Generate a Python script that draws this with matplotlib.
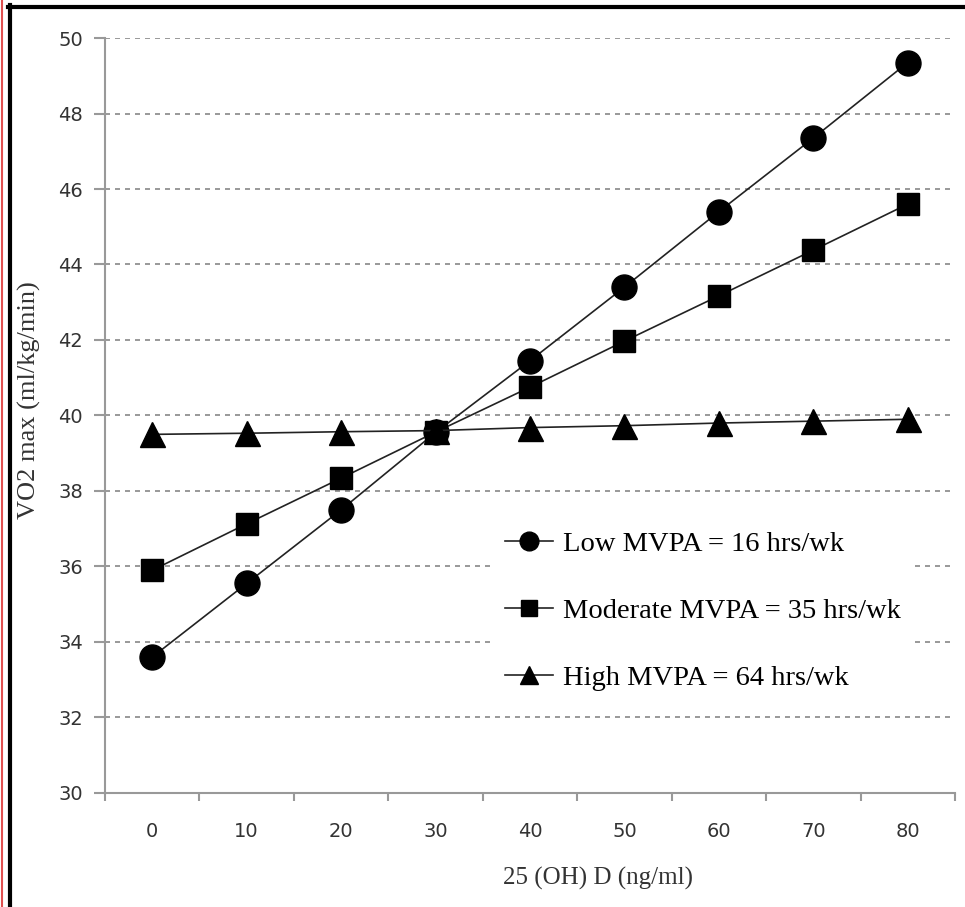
import numpy as np
import matplotlib.pyplot as plt
from matplotlib.lines import Line2D

vitD = [0, 10, 20, 30, 40, 50, 60, 70, 80]
lowMVPA = [33.6, 35.55, 37.5, 39.55, 41.45, 43.4, 45.4, 47.35, 49.35]
modMVPA = [35.9, 37.13, 38.34, 39.56, 40.75, 41.97, 43.17, 44.38, 45.6]
highMVPA = [39.5, 39.53, 39.57, 39.6, 39.68, 39.73, 39.8, 39.85, 39.9]
yTicks = [30, 32, 34, 36, 38, 40, 42, 44, 46, 48, 50]

fig = plt.figure(figsize=(9.65, 9.07), dpi=100)
ax = fig.add_axes([0.1088, 0.1257, 0.8808, 0.8324])

ax.yaxis.grid(True, color='#888888', linestyle=(0, (3, 3)), linewidth=1.2)
ax.set_axisbelow(True)

ax.plot(vitD, lowMVPA, color='#222222', linewidth=1.2, marker='o', markersize=18,
        markerfacecolor='black', markeredgecolor='black', label='Low MVPA = 16 hrs/wk')
ax.plot(vitD, modMVPA, color='#222222', linewidth=1.2, marker='s', markersize=16,
        markerfacecolor='black', markeredgecolor='black', label='Moderate MVPA = 35 hrs/wk')
ax.plot(vitD, highMVPA, color='#222222', linewidth=1.2, marker='^', markersize=18,
        markerfacecolor='black', markeredgecolor='black', label='High MVPA = 64 hrs/wk')

ax.set_xlim(-5, 85)
ax.set_ylim(30, 50)
ax.set_yticks(yTicks)
ax.set_xticks(np.arange(-5, 86, 10))
ax.set_xticklabels([])
ax.set_xticks(vitD, minor=True)
ax.set_xticklabels([str(v) for v in vitD], minor=True)
ax.tick_params(axis='x', which='minor', length=0, pad=21, labelsize=14, labelcolor='#333333')
ax.tick_params(axis='x', which='major', length=6, color='#999999', width=1.5)
ax.tick_params(axis='y', length=8, color='#999999', width=1.5, labelsize=14,
               labelcolor='#333333', pad=8)

for s in ['top', 'right']:
    ax.spines[s].set_visible(False)
for s in ['left', 'bottom']:
    ax.spines[s].set_color('#999999')
    ax.spines[s].set_linewidth(1.5)

ax.set_xlabel('25 (OH) D (ng/ml)', family='Liberation Serif', fontsize=18, color='#333333')
ax.set_ylabel('VO2 max (ml/kg/min)', family='Liberation Serif', fontsize=19, color='#333333')
ax.xaxis.set_label_coords(0.58, -0.098)
ax.yaxis.set_label_coords(-0.075, 0.52)

leg = ax.legend(loc='upper left', bbox_to_anchor=(0.437, 0.385), frameon=True,
                prop={'family': 'Liberation Serif', 'size': 20.5}, handlelength=1.7,
                handletextpad=0.35, labelspacing=1.45, borderpad=0.5, markerscale=0.75)
leg.get_frame().set_facecolor('white')
leg.get_frame().set_edgecolor('none')
leg.get_frame().set_alpha(1)

fig.add_artist(Line2D([2 / 965, 2 / 965], [0, 1], color='#e05050', linewidth=1.5))
fig.add_artist(Line2D([10 / 965, 10 / 965], [0, 1 - 5 / 907], color='black', linewidth=3))
fig.add_artist(Line2D([8 / 965, 1], [1 - 7 / 907, 1 - 7 / 907], color='black', linewidth=3))

fig.savefig('out.png', dpi=100)
